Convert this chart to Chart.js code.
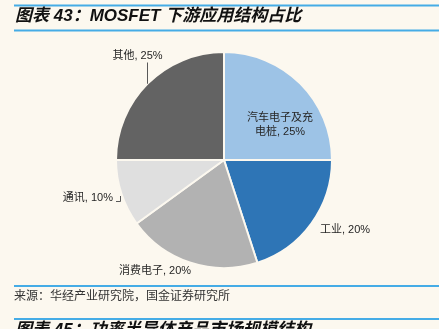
<!DOCTYPE html>
<html>
<head>
<meta charset="utf-8">
<script src="https://cdn.jsdelivr.net/npm/chart.js@4/dist/chart.umd.min.js"></script>
<style>
  html, body { margin: 0; padding: 0; background: #fcf8ef; }
  canvas { display: block; }
</style>
</head>
<body>
<canvas id="mosfetChart" width="439" height="329"></canvas>
<script>
// MOSFET 下游应用结构占比 (%)
const categories = ["汽车电子及充电桩", "工业", "消费电子", "通讯", "其他"];
const shares = [25, 20, 20, 10, 25];
const sliceColors = ["#9dc3e6", "#2e75b6", "#b2b2b2", "#dfdfdf", "#636363"];

const bgColor = "#fcf8ef";
const ruleColor = "#45ace6";
const cjk = "'Liberation Sans', 'Noto Sans CJK SC', sans-serif";

// label placement relative to the pie centre
const labelLayout = [
  { dx: 56, dy: -35, align: "center" },
  { dx: 96, dy: 70, align: "left" },
  { dx: -69, dy: 111, align: "center" },
  { dx: -111, dy: 38, align: "right" },
  { dx: -86.5, dy: -104.5, align: "center" },
];

// page frame: background, blue rules, heading and source note
const framePlugin = {
  id: "frame",
  beforeDraw(chart) {
    const ctx = chart.ctx;
    ctx.save();
    ctx.fillStyle = bgColor;
    ctx.fillRect(0, 0, chart.width, chart.height);

    ctx.strokeStyle = ruleColor;
    ctx.lineWidth = 2;
    [5.5, 30.5, 286, 319].forEach(function (y) {
      ctx.beginPath();
      ctx.moveTo(14, y);
      ctx.lineTo(chart.width, y);
      ctx.stroke();
    });

    ctx.fillStyle = "#111";
    ctx.textBaseline = "middle";
    ctx.font = "italic bold 17px " + cjk;
    ctx.fillText("图表 43：MOSFET 下游应用结构占比", 15, 16.5);
    ctx.fillText("图表 45：功率半导体产品市场规模结构", 15, 330.5);

    ctx.fillStyle = "#333";
    ctx.font = "12px " + cjk;
    ctx.fillText("来源：华经产业研究院，国金证券研究所", 14, 297);
    ctx.restore();
  },
};

// data labels and leader lines
const labelPlugin = {
  id: "sliceLabels",
  afterDraw(chart) {
    const ctx = chart.ctx;
    const arcs = chart.getDatasetMeta(0).data;
    const cx = arcs[0].x;
    const cy = arcs[0].y;
    const r = arcs[0].outerRadius;

    ctx.save();
    ctx.fillStyle = "#262626";
    ctx.font = "11px " + cjk;
    ctx.textBaseline = "middle";
    categories.forEach(function (name, i) {
      const pos = labelLayout[i];
      const text = name + ", " + shares[i] + "%";
      ctx.textAlign = pos.align;
      if (name.length > 6) {
        ctx.fillText(name.slice(0, 6), cx + pos.dx, cy + pos.dy - 7);
        ctx.fillText(text.slice(6), cx + pos.dx, cy + pos.dy + 7);
      } else {
        ctx.fillText(text, cx + pos.dx, cy + pos.dy);
      }
    });

    ctx.strokeStyle = "#595959";
    ctx.lineWidth = 1;
    // 其他: straight down to the rim
    const lx = cx - 76.5;
    ctx.beginPath();
    ctx.moveTo(lx, cy + labelLayout[4].dy + 7);
    ctx.lineTo(lx, cy - Math.sqrt(r * r - (lx - cx) * (lx - cx)));
    ctx.stroke();
    // 通讯: small elbow next to the text
    const ex = cx - 103.5;
    ctx.beginPath();
    ctx.moveTo(cx - 108, cy + 41.5);
    ctx.lineTo(ex, cy + 41.5);
    ctx.lineTo(ex, cy + 36);
    ctx.stroke();
    ctx.restore();
  },
};

new Chart(document.getElementById("mosfetChart").getContext("2d"), {
  type: "pie",
  data: {
    labels: categories,
    datasets: [
      {
        data: shares,
        backgroundColor: sliceColors,
        borderColor: bgColor,
        borderWidth: 2,
      },
    ],
  },
  options: {
    responsive: false,
    animation: false,
    layout: { padding: { left: 115, right: 106, top: 51, bottom: 60 } },
    plugins: {
      legend: { display: false },
      tooltip: { enabled: false },
    },
  },
  plugins: [framePlugin, labelPlugin],
});
</script>
</body>
</html>
